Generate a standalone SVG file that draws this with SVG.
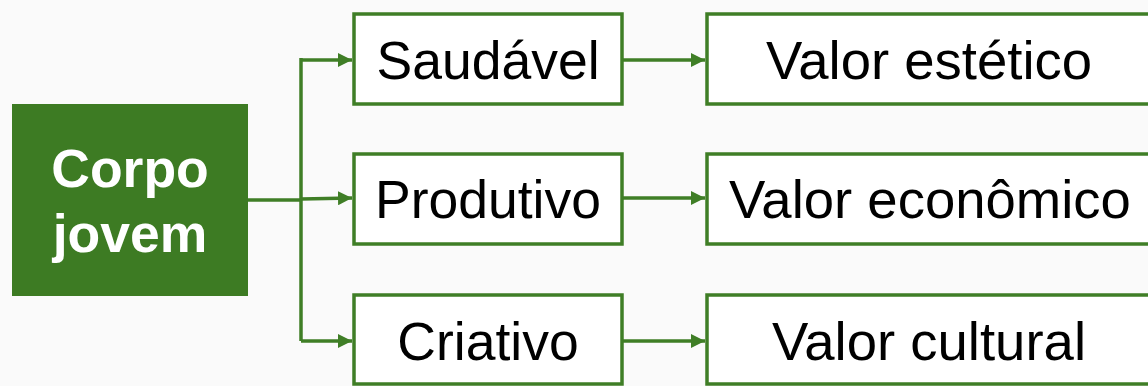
<svg xmlns="http://www.w3.org/2000/svg" width="1148" height="386" viewBox="0 0 1148 386">
<defs>
<marker id="ah" markerWidth="14" markerHeight="14" refX="14" refY="7" orient="auto" markerUnits="userSpaceOnUse">
<path d="M0,0 L14,7 L0,14 Z" fill="#3f7e26"/>
</marker>
<style>
.box{fill:#ffffff;stroke:#3f7e26;stroke-width:3.5}
.t{font-family:"Liberation Sans",Arial,sans-serif;font-size:53.5px;fill:#000;text-anchor:middle}
.r{font-size:54.5px}
.c{fill:none;stroke:#3f7e26;stroke-width:3.5}
.w{font-family:"Liberation Sans",Arial,sans-serif;font-size:53.5px;font-weight:bold;fill:#fff;text-anchor:middle}
</style>
</defs>
<rect width="1148" height="386" fill="#fafafa"/>
<g id="connectors">
<path class="c" d="M248,200 L301,200"/>
<path class="c" d="M301,58 L301,341"/>
<path class="c" d="M301,60 L352,60" marker-end="url(#ah)"/>
<path class="c" d="M301,199 L352,198" marker-end="url(#ah)"/>
<path class="c" d="M301,341 L352,341" marker-end="url(#ah)"/>
<path class="c" d="M623,60 L705,60" marker-end="url(#ah)"/>
<path class="c" d="M623,198 L705,198" marker-end="url(#ah)"/>
<path class="c" d="M623,341 L705,341" marker-end="url(#ah)"/>
</g>
<g id="corpo">
<rect x="12" y="104" width="236" height="192" fill="#3d7b23"/>
<text class="w" x="130" y="187">Corpo</text>
<text class="w" x="130" y="252">jovem</text>
</g>
<g id="saudavel"><rect class="box" x="354" y="14" width="268" height="90"/><text class="t" x="488" y="79">Saudável</text></g>
<g id="produtivo"><rect class="box" x="354" y="154" width="268" height="90"/><text class="t" x="488" y="218">Produtivo</text></g>
<g id="criativo"><rect class="box" x="354" y="295" width="268" height="89"/><text class="t" x="488" y="360">Criativo</text></g>
<g id="estetico"><rect class="box" x="707" y="14" width="446" height="90"/><text class="t r" x="929" y="79">Valor estético</text></g>
<g id="economico"><rect class="box" x="707" y="154" width="446" height="90"/><text class="t r" x="930" y="218">Valor econômico</text></g>
<g id="cultural"><rect class="box" x="707" y="295" width="446" height="89"/><text class="t r" x="929" y="360">Valor cultural</text></g>
</svg>
